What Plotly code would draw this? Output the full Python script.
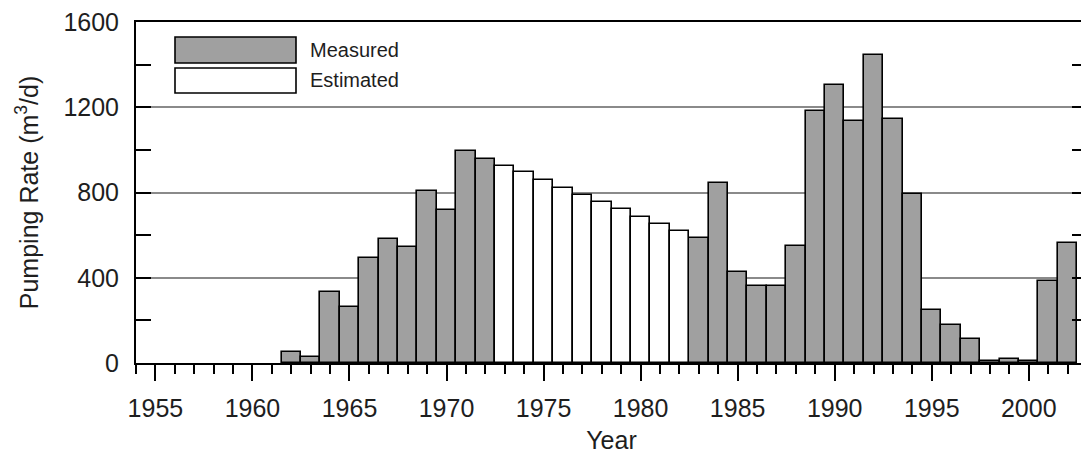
import plotly.graph_objects as go

measured_years = [1962, 1963, 1964, 1965, 1966, 1967, 1968, 1969, 1970, 1971, 1972,
                  1983, 1984, 1985, 1986, 1987, 1988, 1989, 1990, 1991, 1992, 1993,
                  1994, 1995, 1996, 1997, 1998, 1999, 2000, 2001, 2002]
measured_values = [50, 28, 332, 265, 492, 583, 544, 809, 719, 994, 956,
                   586, 845, 425, 361, 361, 547, 1184, 1305, 1136, 1444, 1144,
                   795, 251, 180, 114, 11, 17, 8, 387, 562]
estimated_years = [1973, 1974, 1975, 1976, 1977, 1978, 1979, 1980, 1981, 1982]
estimated_values = [925, 894, 859, 819, 789, 756, 722, 684, 652, 620]

y_ticks = [0, 400, 800, 1200, 1600]
x_ticks = [1955, 1960, 1965, 1970, 1975, 1980, 1985, 1990, 1995, 2000]

FONT = "Liberation Sans, Arial, sans-serif"
GRAY = "#a0a0a0"
TXT = "#1e1e1e"

fig = go.Figure()
fig.add_trace(go.Bar(x=measured_years, y=measured_values, width=1, name="Measured",
                     marker=dict(color=GRAY, line=dict(color="black", width=1.6)),
                     showlegend=False))
fig.add_trace(go.Bar(x=estimated_years, y=estimated_values, width=1, name="Estimated",
                     marker=dict(color="white", line=dict(color="black", width=1.6)),
                     showlegend=False))

# page body has an 8px margin, so the figure is drawn at (8, 8)
OFF = 8
W, H = 1089 - OFF, 459 - OFF
L, R, T, B = 136 - OFF, 2, 22 - OFF, 96
pw, ph = W - L - R, H - T - B

def px(x):
    return (x - OFF - L) / pw

def py(y):
    return 1 - (y - OFF - T) / ph

# legend swatches drawn as shapes
for (y0, y1, col, label, ty) in [(37, 63, GRAY, "Measured", 50), (68, 93, "white", "Estimated", 80)]:
    fig.add_shape(type="rect", xref="paper", yref="paper",
                  x0=px(175), x1=px(296), y0=py(y1), y1=py(y0),
                  fillcolor=col, line=dict(color="black", width=1.6))
    fig.add_annotation(xref="paper", yref="paper", x=px(308), y=py(ty), text=label,
                       showarrow=False, xanchor="left", yanchor="middle",
                       font=dict(family=FONT, size=20, color=TXT))

fig.update_layout(
    width=W, height=H,
    margin=dict(l=L, r=R, t=T, b=B, autoexpand=False),
    paper_bgcolor="white", plot_bgcolor="white",
    barmode="overlay", bargap=0,
    font=dict(family=FONT, size=25, color=TXT),
)
fig.update_xaxes(
    range=[1954, 2003], tickmode="array", tickvals=x_ticks,
    ticks="outside", ticklen=16, tickwidth=1.5, tickcolor="black",
    minor=dict(dtick=1, tick0=1955, ticks="outside", ticklen=9, tickwidth=1.5, tickcolor="black"),
    showline=True, linecolor="black", linewidth=2, mirror=True,
    showgrid=False, zeroline=False,
    tickfont=dict(family=FONT, size=25, color=TXT),
    ticklabelstandoff=6, ticklabeloverflow="allow",
    title=dict(text="Year", font=dict(family=FONT, size=25, color=TXT), standoff=10),
)
fig.update_yaxes(
    range=[0, 1600], tickmode="array", tickvals=y_ticks,
    ticks="inside", ticklen=15, tickwidth=1.5, tickcolor="black",
    minor=dict(dtick=200, tick0=0, ticks="inside", ticklen=15, tickwidth=1.5, tickcolor="black", showgrid=False),
    showline=True, linecolor="black", linewidth=2, mirror="ticks",
    showgrid=True, gridcolor="#8a8a8a", gridwidth=1.5, zeroline=False,
    tickfont=dict(family=FONT, size=25, color=TXT),
    ticklabelstandoff=10, ticklabeloverflow="allow",
    title=dict(text="Pumping Rate (m<sup>3</sup>/d)", font=dict(family=FONT, size=25, color=TXT), standoff=18),
)

fig.write_html("out.html")
